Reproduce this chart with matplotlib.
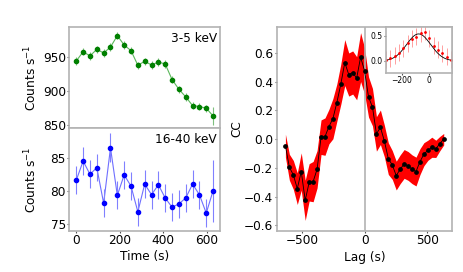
import numpy as np
import matplotlib
matplotlib.use("Agg")
import matplotlib.pyplot as plt

# ---- data ----
time_s = [0, 31.5, 63, 94.5, 126, 157.5, 189, 220.5, 252, 283.5, 315,
          346.5, 378, 409.5, 441, 472.5, 504, 535.5, 567, 598.5, 630]
soft_rate = [944.5, 958.3, 952.0, 961.8, 956.4, 965.2, 982.0, 968.2, 959.8, 938.2, 944.0,
             938.6, 943.0, 940.0, 917.0, 902.6, 891.3, 878.4, 877.0, 874.5, 863.0]
soft_err = [5.5, 5.5, 5.5, 5.5, 5.5, 5.5, 5.5, 5.5, 5.5, 5.5, 5.5,
            5.5, 5.5, 5.5, 5.5, 5.5, 5.5, 5.5, 5.5, 5.5, 13.0]
hard_rate = [81.6, 84.5, 82.5, 83.5, 78.1, 86.5, 79.3, 82.4, 80.7, 76.8, 81.0,
             79.4, 80.9, 78.9, 77.5, 78.0, 78.9, 81.0, 79.4, 76.6, 80.0]
hard_err = [2.1, 2.1, 2.1, 2.1, 2.1, 2.2, 2.1, 2.1, 2.1, 2.1, 2.1,
            2.1, 2.1, 2.1, 2.1, 2.1, 2.1, 2.1, 2.1, 2.1, 4.7]

lag_s = [-630, -598.5, -567, -535.5, -504, -472.5, -441, -409.5, -378, -346.5, -315,
         -283.5, -252, -220.5, -189, -157.5, -126, -94.5, -63, -31.5, 0,
         31.5, 63, 94.5, 126, 157.5, 189, 220.5, 252, 283.5, 315,
         346.5, 378, 409.5, 441, 472.5, 504, 535.5, 567, 598.5, 630]
cc = [-0.045, -0.195, -0.248, -0.344, -0.225, -0.425, -0.300, -0.295, -0.209, 0.014, 0.018,
      0.088, 0.143, 0.255, 0.383, 0.533, 0.450, 0.464, 0.424, 0.571, 0.475,
      0.294, 0.223, 0.037, 0.083, -0.012, -0.135, -0.179, -0.253, -0.209, -0.172,
      -0.186, -0.209, -0.225, -0.156, -0.104, -0.077, -0.056, -0.067, -0.031, 0.000]
cc_err = [0.08, 0.09, 0.10, 0.11, 0.13, 0.14, 0.13, 0.14, 0.13, 0.12, 0.13,
          0.12, 0.14, 0.13, 0.14, 0.16, 0.15, 0.15, 0.15, 0.17, 0.16,
          0.14, 0.13, 0.12, 0.12, 0.11, 0.11, 0.10, 0.10, 0.10, 0.10,
          0.10, 0.10, 0.10, 0.09, 0.08, 0.07, 0.07, 0.06, 0.05, 0.04]

inset_lag = [-315, -283.5, -252, -220.5, -189, -157.5, -126, -94.5, -63, -31.5, 0,
             31.5, 63, 94.5, 126, 157.5, 189]
inset_cc = [0.02, 0.05, 0.10, 0.16, 0.25, 0.35, 0.44, 0.48, 0.55, 0.58, 0.45,
            0.30, 0.22, 0.15, 0.08, 0.02, -0.05]
inset_err = [0.17] * 17
gauss_amp, gauss_mu, gauss_sigma = 0.54, -78.0, 88.0

# ---- style ----
plt.rcParams['font.family'] = ['DejaVu Sans']
SP = '#b3b3b3'
FS = 8.7

fig = plt.figure(figsize=(4.63, 2.72), dpi=100)
ax1 = fig.add_axes([0.150, 0.529, 0.325, 0.372])
ax2 = fig.add_axes([0.150, 0.151, 0.325, 0.378], sharex=ax1)
ax3 = fig.add_axes([0.598, 0.151, 0.378, 0.750])
ax4 = fig.add_axes([0.834, 0.732, 0.143, 0.169])

for a in (ax1, ax2, ax3, ax4):
    for s in a.spines.values():
        s.set_color(SP)
        s.set_linewidth(1.2)
    a.tick_params(labelsize=FS, length=1.5, width=0.8, pad=1.0, color='#555555')
ax4.tick_params(labelsize=5.5, length=1.5, pad=1.0)

# top light curve
ax1.errorbar(time_s, soft_rate, yerr=soft_err, fmt='o', ms=3, color='green',
             ecolor='#7fc07f', elinewidth=0.8, capsize=0, zorder=3)
ax1.plot(time_s, soft_rate, '-', color='#5cb85c', lw=0.8, zorder=2)
ax1.set_ylim(845, 995)
ax1.set_yticks([850, 900, 950])
ax1.set_ylabel('Counts s$^{-1}$', fontsize=FS)
ax1.yaxis.set_label_coords(-0.203, 0.5)
ax1.text(0.98, 0.95, '3-5 keV', transform=ax1.transAxes, ha='right', va='top', fontsize=FS)
plt.setp(ax1.get_xticklabels(), visible=False)
ax1.tick_params(axis='x', length=0)

# bottom light curve
ax2.errorbar(time_s, hard_rate, yerr=hard_err, fmt='o', ms=3, color='blue',
             ecolor='#8080ff', elinewidth=0.8, capsize=0, zorder=3)
ax2.plot(time_s, hard_rate, '-', color='#6f6fff', lw=0.8, zorder=2)
ax2.set_ylim(73.9, 89.5)
ax2.set_yticks([75, 80, 85])
ax2.set_xlim(-31.5, 661.5)
ax2.set_xticks([0, 200, 400, 600])
ax2.set_ylabel('Counts s$^{-1}$', fontsize=FS)
ax2.yaxis.set_label_coords(-0.203, 0.5)
ax2.set_xlabel('Time (s)', fontsize=FS)
ax2.xaxis.set_label_coords(0.5, -0.19)
ax2.text(0.98, 0.95, '16-40 keV', transform=ax2.transAxes, ha='right', va='top', fontsize=FS)

# CCF
lag = np.array(lag_s)
ccv = np.array(cc)
ce = np.array(cc_err)
ax3.fill_between(lag, ccv - ce, ccv + ce, color='red', lw=0, zorder=1)
ax3.axvline(0, color=SP, lw=1.2, zorder=2)
ax3.plot(lag, ccv, '-', color='black', lw=0.6, zorder=3)
ax3.plot(lag, ccv, 'o', color='black', ms=2.4, zorder=4)
ax3.set_xlim(-698, 695)
ax3.set_ylim(-0.638, 0.781)
ax3.set_xticks([-500, 0, 500])
ax3.set_yticks([-0.6, -0.4, -0.2, 0.0, 0.2, 0.4, 0.6])
ax3.set_ylabel('CC', fontsize=FS)
ax3.yaxis.set_label_coords(-0.194, 0.5)
ax3.set_xlabel('Lag (s)', fontsize=FS)
ax3.xaxis.set_label_coords(0.5, -0.096)

# inset
ax4.errorbar(inset_lag, inset_cc, yerr=inset_err, fmt='o', ms=1.0, color='red',
             ecolor='#ffa0a0', elinewidth=0.7, capsize=0)
xg = np.linspace(-315, 168, 200)
ax4.plot(xg, gauss_amp * np.exp(-0.5 * ((xg - gauss_mu) / gauss_sigma) ** 2), color='black', lw=0.6)
ax4.set_xlim(-315, 168)
ax4.set_ylim(-0.24, 0.68)
ax4.set_xticks([-200, 0])
ax4.set_yticks([0.0, 0.5])

fig.savefig('out.png', dpi=100)
